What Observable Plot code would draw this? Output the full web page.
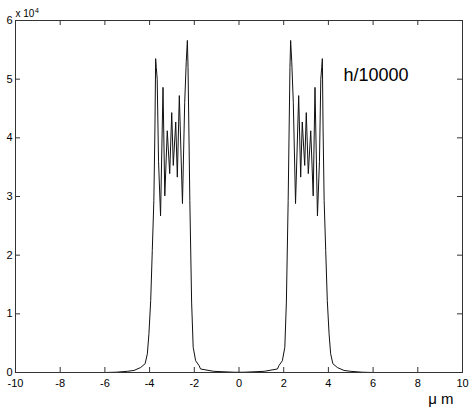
<!DOCTYPE html>
<html><head><meta charset="utf-8">
<script src="https://cdn.jsdelivr.net/npm/d3@7"></script>
<script src="https://cdn.jsdelivr.net/npm/@observablehq/plot@0.6"></script>
<style>body{margin:0;background:#fff} svg{display:block}</style>
</head><body><div id="chart"></div>
<script>
// Positions (µm) and intensity values
const leftX = [-10, -6, -5.5, -5.0, -4.7, -4.4, -4.2, -4.10, -4.03, -3.95, -3.88, -3.81, -3.76, -3.73, -3.70, -3.66, -3.60, -3.51, -3.40, -3.32, -3.21, -3.10, -3.01, -2.94, -2.83, -2.76, -2.67, -2.53, -2.43, -2.36, -2.31, -2.28, -2.20, -2.12, -2.05, -1.94, -1.79, -1.72, -1.13, -0.24];
const leftY = [0, 0, 50, 200, 350, 850, 1500, 3200, 6600, 12300, 20800, 29300, 42000, 53500, 52000, 50000, 36000, 26700, 48600, 30100, 41200, 33900, 44300, 35300, 42700, 33300, 47200, 28800, 46000, 53000, 56600, 52000, 29300, 12000, 4300, 2000, 1200, 600, 200, 50];
const centerX = [0];
const centerY = [40];
const rightX = [0.24, 1.13, 1.72, 1.79, 1.94, 2.05, 2.12, 2.20, 2.28, 2.31, 2.36, 2.43, 2.53, 2.67, 2.76, 2.83, 2.94, 3.01, 3.10, 3.21, 3.32, 3.40, 3.51, 3.60, 3.66, 3.70, 3.73, 3.76, 3.81, 3.88, 3.95, 4.03, 4.10, 4.2, 4.4, 4.7, 5.0, 5.5, 6, 10];
const rightY = [50, 200, 600, 1200, 2000, 4300, 12000, 29300, 52000, 56600, 53000, 46000, 28800, 47200, 33300, 42700, 35300, 44300, 33900, 41200, 30100, 48600, 26700, 36000, 50000, 52000, 53500, 42000, 29300, 20800, 12300, 6600, 3200, 1500, 850, 350, 200, 50, 0, 0];

const xTicks = [-10, -8, -6, -4, -2, 0, 2, 4, 6, 8, 10];
const yTicks = [0, 10000, 20000, 30000, 40000, 50000, 60000];
const annotation = ["h/10000"];
const xUnit = ["\u03bc m"];
const yExponentBase = ["x 10"];
const yExponent = ["4"];

const allX = [...leftX, ...centerX, ...rightX];
const allY = [...leftY, ...centerY, ...rightY];
const rows = allX.map((x, i) => ({pos: x, val: allY[i]}));

const W = 475, H = 410, mL = 15, mR = 13, mT = 20, mB = 38;
const innerW = W - mL - mR, innerH = H - mT - mB;
const tick = 5;
const ink = "#333";

const chart = Plot.plot({
  width: W, height: H,
  marginLeft: mL, marginRight: mR, marginTop: mT, marginBottom: mB,
  x: {domain: [-10, 10], label: null},
  y: {domain: [0, 60000], label: null},
  style: {fontFamily: "'Liberation Sans', Arial, sans-serif", fontSize: "11px", color: "#000", background: "#fff"},
  marks: [
    Plot.line(rows, {x: "pos", y: "val", stroke: "#111", strokeWidth: 1}),
    Plot.frame({stroke: ink}),
    Plot.ruleX(xTicks, {x: d => d, insetTop: innerH - tick, stroke: ink}),
    Plot.ruleX(xTicks, {x: d => d, insetBottom: innerH - tick, stroke: ink}),
    Plot.ruleY(yTicks, {y: d => d, insetRight: innerW - tick, stroke: ink}),
    Plot.ruleY(yTicks, {y: d => d, insetLeft: innerW - tick, stroke: ink}),
    Plot.axisX(xTicks, {tickSize: 0, tickPadding: 7, tickFormat: d => String(d), fontSize: 11, label: null}),
    Plot.axisY(yTicks, {tickSize: 0, tickPadding: 3, tickFormat: d => String(d / 1e4), fontSize: 11, label: null}),
    Plot.text(yExponentBase, {text: d => d, frameAnchor: "top-left", textAnchor: "start", lineAnchor: "middle", dx: 0, dy: -7, fontSize: 10}),
    Plot.text(yExponent, {text: d => d, frameAnchor: "top-left", textAnchor: "start", lineAnchor: "middle", dx: 19.5, dy: -10, fontSize: 7}),
    Plot.text(annotation, {text: d => d, frameAnchor: "top-left", textAnchor: "start", lineAnchor: "middle", dx: 328, dy: 55, fontSize: 18}),
    Plot.text(xUnit, {text: d => d, frameAnchor: "bottom-right", textAnchor: "end", lineAnchor: "middle", dx: -9, dy: 27, fontSize: 15})
  ]
});
document.getElementById("chart").appendChild(chart);
</script>
</body></html>
